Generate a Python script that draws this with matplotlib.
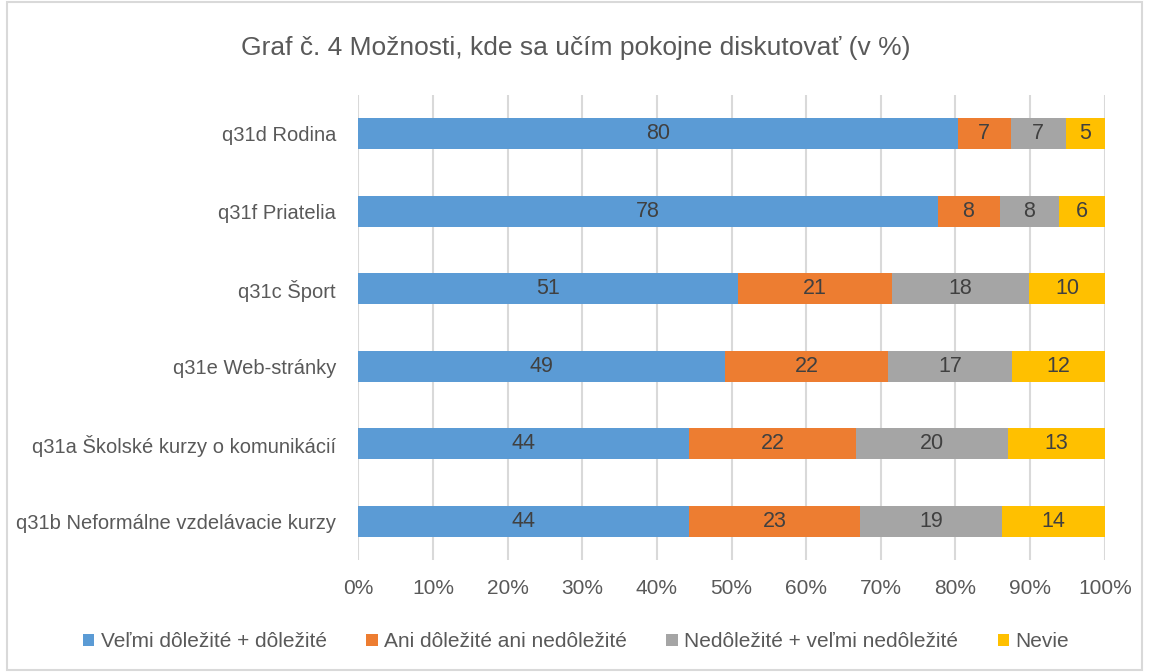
import matplotlib.pyplot as plt
from matplotlib.patches import Rectangle

# Data (percent, shown rounded in labels)
categories = [
    "q31d Rodina",
    "q31f Priatelia",
    "q31c Šport",
    "q31e Web-stránky",
    "q31a Školské kurzy o komunikácií",
    "q31b Neformálne vzdelávacie kurzy",
]
important = [80.3, 77.6, 50.9, 49.1, 44.3, 44.3]
neutral = [7.1, 8.3, 20.6, 21.9, 22.4, 22.9]
unimportant = [7.4, 8.0, 18.4, 16.6, 20.3, 19.0]
dont_know = [5.2, 6.1, 10.1, 12.4, 13.0, 13.8]

series_names = [
    "Veľmi dôležité + dôležité",
    "Ani dôležité ani nedôležité",
    "Nedôležité + veľmi nedôležité",
    "Nevie",
]
colors = ["#5B9BD5", "#ED7D31", "#A5A5A5", "#FFC000"]

plt.rcParams["font.family"] = ["Liberation Sans", "DejaVu Sans"]

fig = plt.figure(figsize=(11.52, 6.72), dpi=100)
ax = fig.add_axes([0.311, 0.167, 0.648, 0.692])

# light frame around the whole chart
fig.patches.append(Rectangle((0.006, 0.003), 0.985, 0.994, transform=fig.transFigure,
                             fill=False, edgecolor="#D9D9D9", linewidth=1.5))

series = [important, neutral, unimportant, dont_know]
y = list(range(len(categories)))
totals = [i + n + u + d for i, n, u, d in zip(important, neutral, unimportant, dont_know)]
left = [0.0] * len(categories)
for vals, name, col in zip(series, series_names, colors):
    widths = [v / t for v, t in zip(vals, totals)]
    bars = ax.barh(y, widths, left=left, height=0.4, color=col, label=name, zorder=3)
    for b, v in zip(bars, vals):
        ax.text(b.get_x() + b.get_width() / 2, b.get_y() + b.get_height() / 2,
                f"{round(v)}", ha="center", va="center", fontsize=15.5, color="#404040", zorder=4)
    left = [l + w for l, w in zip(left, widths)]

ax.set_yticks(y)
ax.set_yticklabels(categories, fontsize=14.5, color="#595959")
ax.set_ylim(len(categories) - 0.5, -0.5)
ax.set_xlim(0, 1)
ax.set_xticks([i / 10 for i in range(11)])
ax.set_xticklabels([f"{i * 10}%" for i in range(11)], fontsize=15, color="#595959")
ax.tick_params(length=0)
ax.tick_params(axis="y", pad=16)
ax.tick_params(axis="x", pad=14)
ax.grid(axis="x", color="#D9D9D9", linewidth=1.5, zorder=0)
for s in ax.spines.values():
    s.set_visible(False)

fig.text(0.5, 0.928, "Graf č. 4 Možnosti, kde sa učím pokojne diskutovať (v %)",
         ha="center", va="center", fontsize=19, color="#595959")

fig.legend(loc="center", bbox_to_anchor=(0.5, 0.045), ncol=4, frameon=False,
           fontsize=15, labelcolor="#595959", handlelength=0.55, handleheight=0.55,
           handletextpad=0.3, columnspacing=1.9)

fig.savefig("out.png", dpi=100)
